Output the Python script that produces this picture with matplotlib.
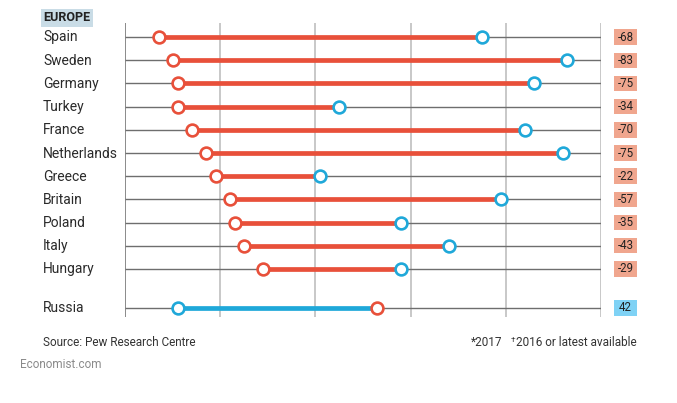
import matplotlib
matplotlib.use("Agg")
import matplotlib.pyplot as plt
from matplotlib.patches import Rectangle

plt.rcParams['font.family'] = ['Roboto', 'DejaVu Sans']

countries = ["Spain", "Sweden", "Germany", "Turkey", "France", "Netherlands",
             "Greece", "Britain", "Poland", "Italy", "Hungary", "Russia"]
val_2017 = [7, 10, 11, 11, 14, 17, 19, 22, 23, 25, 29, 53]
val_prev = [75, 93, 86, 45, 84, 92, 41, 79, 58, 68, 58, 11]
changes = ["-68", "-83", "-75", "-34", "-70", "-75", "-22", "-57", "-35", "-43", "-29", "42"]
grid_ticks = [0, 20, 40, 60, 80, 100]

RED = "#e8503a"
BLUE = "#1fa8d9"
BOX_RED = "#f0a68e"
BOX_BLUE = "#7fd2f5"

W, H = 677, 403
fig = plt.figure(figsize=(W / 100, H / 100), dpi=100)
fig.patch.set_facecolor("white")

left_px, right_px = 125.3, 600.7
top_px, bot_px = 22.7, 316.7
ax = fig.add_axes([left_px / W, 1 - bot_px / H, (right_px - left_px) / W, (bot_px - top_px) / H])
ax.set_xlim(0, 100)
ypos = list(range(11)) + [11.68]
ax.set_ylim(12.06, -0.62)
ax.axis("off")

for t in grid_ticks:
    if t == 0:
        ax.axvline(t, color="#6b6b6b", lw=1.1, zorder=1)
    else:
        ax.axvline(t, color="#c4c4c4", lw=1.3, zorder=1)

px_x = (right_px - left_px) / 100.0
px_y = 23.2
box_w = 23.5 / px_x
box_h = 15.5 / px_y
box_cx = (625.7 - left_px) / px_x

for i, c in enumerate(countries):
    y = ypos[i]
    ax.plot([0, 100], [y, y], color="#6e6e6e", lw=1.0, zorder=2, solid_capstyle="butt")
    a, b = val_2017[i], val_prev[i]
    col = RED if a < b else BLUE
    ax.plot([a, b], [y, y], color=col, lw=3.4, zorder=3, solid_capstyle="butt")
    ax.plot([b], [y], marker="o", ms=8.5, mfc="white", mec=BLUE, mew=1.9, zorder=4)
    ax.plot([a], [y], marker="o", ms=8.5, mfc="white", mec=RED, mew=1.9, zorder=4)
    fig.text(43 / W, 1 - (37.5 + y * 23.2) / H, c, fontsize=10, color="#2a2a2a",
             va="center", ha="left")
    boxcol = BOX_RED if changes[i].startswith("-") else BOX_BLUE
    ax.add_patch(Rectangle((box_cx - box_w / 2, y - box_h / 2), box_w, box_h,
                           fc=boxcol, ec="none", clip_on=False, zorder=3))
    ax.text(box_cx, y, changes[i], fontsize=8.3, color="#222222", ha="center", va="center",
            clip_on=False, zorder=4)

fig.text(43 / W, 1 - 17.5 / H, "EUROPE", fontsize=9, fontweight="bold", color="#222222",
         va="center", ha="left",
         bbox=dict(boxstyle="square,pad=0.2", fc="#c9dce6", ec="none"))

fig.text(43 / W, 1 - 343 / H, "Source: Pew Research Centre", fontsize=8.5, color="#333333",
         va="center", ha="left")

fig.canvas.draw()
r = fig.canvas.get_renderer()
t1 = fig.text(637 / W, 1 - 343 / H, "2016 or latest available", fontsize=8.5,
              color="#333333", va="center", ha="right")
bb = t1.get_window_extent(renderer=r)
t2 = fig.text((bb.x0 - 0.5) / W, 1 - 340 / H, "\u2020", fontsize=6, color="#333333",
              va="center", ha="right")
bb2 = t2.get_window_extent(renderer=r)
fig.text((bb2.x0 - 9) / W, 1 - 343 / H, "*2017", fontsize=8.5, color="#333333",
         va="center", ha="right")

fig.text(20 / W, 1 - 364 / H, "Economist.com", fontsize=8.5, color="#8a8a8a",
         va="center", ha="left")

fig.savefig("out.png", dpi=100, facecolor="white")
